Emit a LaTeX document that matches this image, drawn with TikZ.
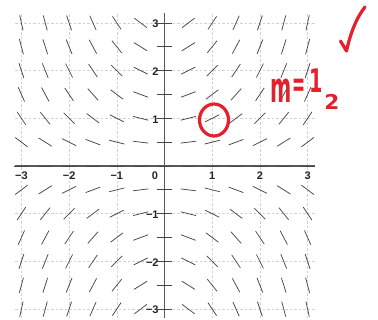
\documentclass[tikz,border=0pt]{standalone}
\usepackage{fontspec}
\setmainfont{Liberation Sans}
\newfontfamily\handfont{DejaVu Sans}
\definecolor{inkred}{HTML}{E3202B}
\begin{document}
\begin{tikzpicture}[x=1pt,y=-1pt,
  gridline/.style={draw=black!18, dash pattern=on 2.5pt off 2pt, line width=0.6pt},
  axisline/.style={draw=black!65, line width=1.1pt},
  seg/.style={draw=black!72, line width=0.75pt},
  tlabel/.style={font=\fontsize{11}{13}\selectfont\bfseries, inner sep=0pt, text=black!85},
  ink/.style={draw=inkred, line width=3.2pt, line cap=round, line join=round},
  hand/.style={font=\handfont\bfseries\fontsize{24}{24}\selectfont, text=inkred, inner sep=0pt}]
\useasboundingbox (0,0) rectangle (378,320);
\begin{scope}[shift={(164.5,166)}, x=47.7pt, y=47.7pt]
  % grid
  \foreach \k in {-3,-2,-1,1,2,3} {
    \draw[gridline] (\k,-3.19) -- (\k,3.21);
    \draw[gridline] (-3.13,\k) -- (3.16,\k);
  }
  % axes
  \draw[axisline] (-3.13,0) -- (3.16,0);
  \draw[axisline] (0,-3.19) -- (0,3.21);
  % slope field dy/dx = xy/2
  \foreach \x in {-3,-2.5,...,3.1} {
    \foreach \y in {-3,-2.5,...,3.1} {
      \pgfmathsetmacro\a{atan(\x*\y/2)}
      \draw[seg] (\x,\y) ++(\a+180:0.1635) -- ++(\a:0.327);
    }
  }
  % x labels
  \node[tlabel] (xm3) at (-3,-0.21) {−3};
  \node[tlabel] (xm2) at (-2,-0.21) {−2};
  \node[tlabel] (xm1) at (-1,-0.21) {−1};
  \node[tlabel] (x0) at (-0.2,-0.21) {0};
  \node[tlabel] (x1) at (1,-0.21) {1};
  \node[tlabel] (x2) at (2,-0.21) {2};
  \node[tlabel] (x3) at (3,-0.21) {3};
  % y labels
  \node[tlabel, anchor=east] (y3) at (-0.12,2.98) {3};
  \node[tlabel, anchor=east] (y2) at (-0.12,1.98) {2};
  \node[tlabel, anchor=east] (y1) at (-0.12,0.98) {1};
  \node[tlabel, anchor=east] (ym1) at (-0.12,-1.02) {−1};
  \node[tlabel, anchor=east] (ym2) at (-0.12,-2.02) {−2};
  \node[tlabel, anchor=east] (ym3) at (-0.12,-3.02) {−3};
\end{scope}
% red annotations
\draw[ink] (214,120) ellipse [x radius=14.5, y radius=16];
\draw[ink] (340.5,41) -- (346.5,51) .. controls (350,35) and (356,18) .. (365,7);
\node[hand, yscale=1.75, xscale=0.85] (m) at (281,91) {m};
\node[hand, xscale=0.65, yscale=1.5] (eq) at (299,88) {=};
\node[hand, yscale=1.35, xscale=0.8] (one) at (316,81) {1};
\node[hand, xscale=0.9, yscale=0.85] (two) at (332,102) {2};
\end{tikzpicture}
\end{document}
